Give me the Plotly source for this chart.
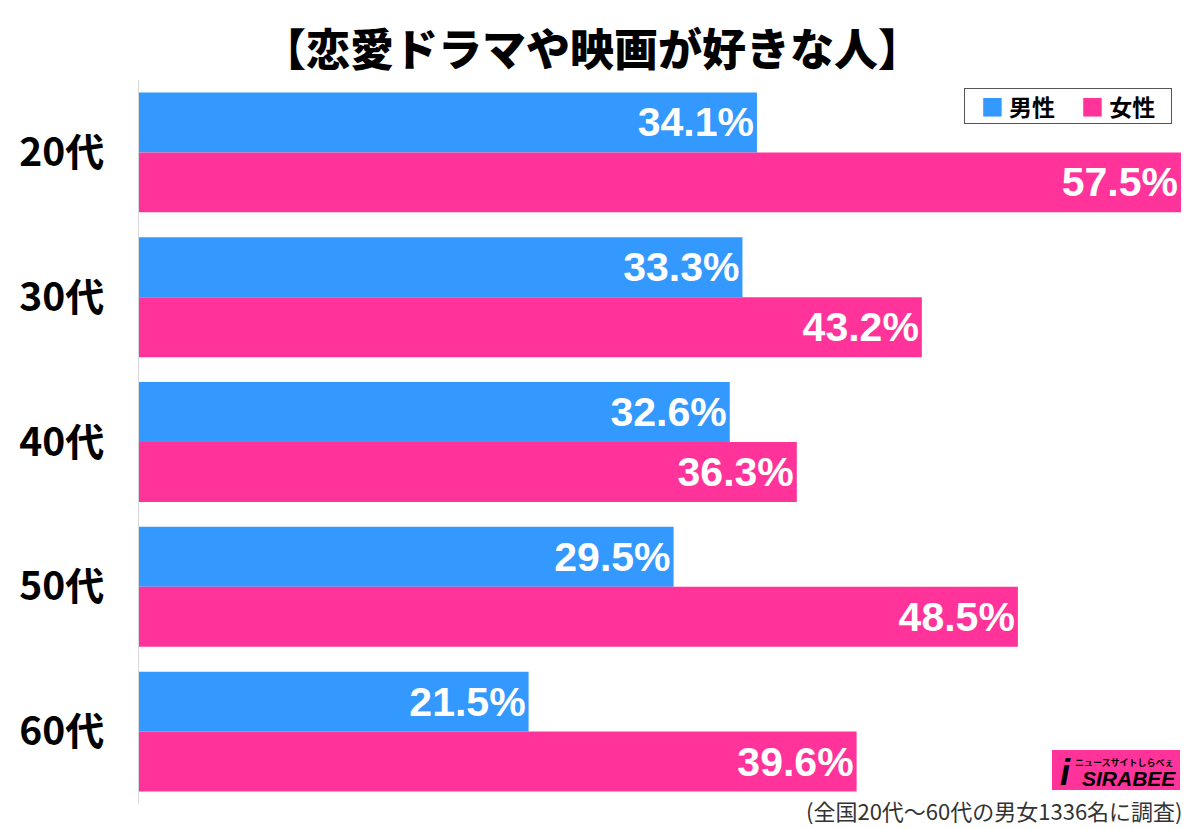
import plotly.graph_objects as go

categories = ["20代", "30代", "40代", "50代", "60代"]
male = [34.1, 33.3, 32.6, 29.5, 21.5]
female = [57.5, 43.2, 36.3, 48.5, 39.6]
series_names = ["男性", "女性"]
title_text = "【恋愛ドラマや映画が好きな人】"
footnote = "(全国20代～60代の男女1336名に調査)"

BLUE = "#3399FF"
PINK = "#FF3399"
JP = "Noto Sans CJK JP"
NUM = "Liberation Sans"

fig = go.Figure()
for name, vals, col in [(series_names[0], male, BLUE), (series_names[1], female, PINK)]:
    fig.add_trace(go.Bar(
        y=categories, x=vals, name=name, orientation="h",
        marker=dict(color=col, line=dict(width=0)),
        text=[f"{v:.1f}%" for v in vals],
        textposition="inside", insidetextanchor="end",
        textfont=dict(family=NUM, size=41, color="white", weight="bold"),
        cliponaxis=False, hoverinfo="skip",
    ))

fig.update_layout(
    width=1200, height=829,
    margin=dict(l=139, r=0, t=80, b=25, autoexpand=False),
    paper_bgcolor="white", plot_bgcolor="white",
    barmode="group", bargap=0.172, bargroupgap=0,
    showlegend=False,
    xaxis=dict(range=[0, 58.55], showgrid=False, zeroline=False, automargin=False,
               showticklabels=False, ticks="", showline=False),
    yaxis=dict(autorange="reversed", showgrid=False, zeroline=False, automargin=False,
               showline=True, linecolor="#d8d8d8", linewidth=1,
               ticks="", ticklabelstandoff=26,
               tickfont=dict(family=JP, size=39, color="black", weight="bold")),
    font=dict(family=JP),
)

# Title
fig.add_annotation(text=title_text, xref="paper", yref="paper", x=(592-139)/1061, y=1.0,
                   yshift=33, xanchor="center", yanchor="middle", showarrow=False,
                   font=dict(family=JP, size=44, color="black", weight=900))

# Legend (boxed)
sp = "&nbsp;"
leg = (f'{sp*3}<span style="color:{BLUE}">■</span>{sp}{series_names[0]}{sp*5}'
       f'<span style="color:{PINK}">■</span>{sp}{series_names[1]}{sp*3}')
fig.add_annotation(text=leg, xref="paper", yref="paper", x=(1172-139)/1061, y=(829-25-88)/724,
                   xanchor="right", yanchor="top", showarrow=False,
                   bgcolor="white", bordercolor="#555555", borderwidth=1,
                   borderpad=0,
                   font=dict(family=JP, size=23, color="black", weight="bold"))

# Logo
fig.add_shape(type="rect", xref="paper", yref="paper",
              x0=(1052-139)/1061, x1=(1180-139)/1061,
              y0=(829-25-790)/724, y1=(829-25-750)/724,
              fillcolor=PINK, line=dict(width=0), layer="above")
fig.add_annotation(text="ニュースサイトしらべぇ", xref="paper", yref="paper",
                   x=(1176-139)/1061, y=(829-25-762)/724, xanchor="right", yanchor="middle",
                   showarrow=False, font=dict(family=JP, size=9, color="black", weight="bold"))
fig.add_annotation(text="<i>i</i>", xref="paper", yref="paper",
                   x=(1065-139)/1061, y=(829-25-772)/724, xanchor="center", yanchor="middle",
                   showarrow=False, font=dict(family=NUM, size=36, color="black", weight="bold"))
fig.add_annotation(text="<i>SIRABEE</i>", xref="paper", yref="paper",
                   x=(1178-139)/1061, y=(829-25-778)/724, xanchor="right", yanchor="middle",
                   showarrow=False, font=dict(family=NUM, size=21, color="black", weight="bold"))

# Footnote
fig.add_annotation(text=footnote, xref="paper", yref="paper",
                   x=(1185-139)/1061, y=(829-25-810)/724, xanchor="right", yanchor="middle",
                   showarrow=False, font=dict(family=JP, size=22, color="#333333"))

post = ("document.documentElement.style.margin='0';"
        "document.body.style.margin='0';document.body.style.padding='0';"
        "document.body.style.overflow='hidden';"
        "var d=document.getElementById('{plot_id}');"
        "d.style.position='absolute';d.style.top='0px';d.style.left='0px';")
fig.write_html("out.html", post_script=post, config={"displayModeBar": False})
